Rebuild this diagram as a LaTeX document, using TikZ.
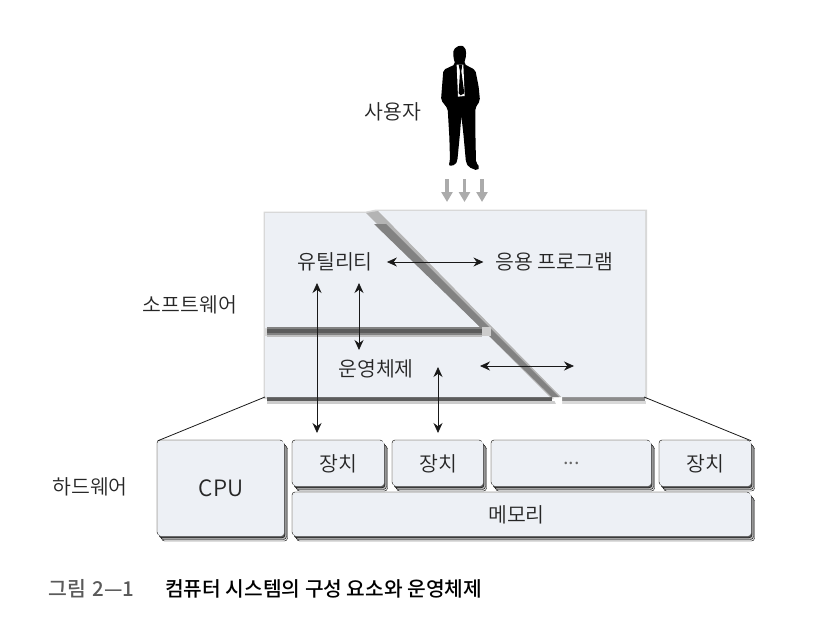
\documentclass[tikz,border=0pt]{standalone}
\usepackage{fontspec}
\setmainfont{Noto Sans CJK KR DemiLight}
\newfontfamily\capfont{Noto Sans CJK KR Medium}
\usetikzlibrary{arrows.meta}
\usetikzlibrary{shadows}
\definecolor{panelfill}{HTML}{EDF0F5}
\definecolor{paneledge}{HTML}{D8D8D8}
\definecolor{banddark}{HTML}{5C5C5C}
\definecolor{bandmid}{HTML}{828282}
\definecolor{bandlight}{HTML}{B4B4B4}
\definecolor{capgray}{HTML}{5A5A5A}
\tikzset{
  label/.style={inner sep=0pt, font=\fontsize{20.5}{20.5}\selectfont, text=black!85},
  hwbox/.style={fill=panelfill, rounded corners=3pt, inner sep=0pt,
    font=\fontsize{20.5}{20.5}\selectfont, text=black!85,
    copy shadow={shadow xshift=3.5pt, shadow yshift=-5pt, fill=black!8},
    copy shadow={shadow xshift=2.5pt, shadow yshift=-3.5pt, fill=black!28},
    copy shadow={shadow xshift=1pt, shadow yshift=-1.8pt, fill=black!65},
    copy shadow={shadow xshift=-1pt, shadow yshift=1pt, fill=black!8}},
  dblarrow/.style={{Stealth[length=10pt,width=9pt]}-{Stealth[length=10pt,width=9pt]}, line width=0.8pt, black!90},
  userarrow/.style={-{Triangle[length=10pt,width=11pt]}, line width=3.6pt, black!33},
  slant/.style={line width=0.8pt, black!90},
}
\newcommand{\HWBox}[5]{
  \node[hwbox, minimum width=#3, minimum height=#4] (#1) at (#2) {#5};
}
\newcommand{\UserArrow}[2]{
  \coordinate (#1a) at (#2,179);
  \coordinate (#1b) at (#2,202);
  \draw[userarrow] (#1a) -- (#1b);
}
\newcommand{\Link}[3]{
  \coordinate (#1a) at #2;
  \coordinate (#1b) at #3;
  \draw[dblarrow] (#1a) -- (#1b);
}
\begin{document}
\begin{tikzpicture}[x=1pt,y=-1pt]
\useasboundingbox (0,0) rectangle (819,623);

% user
\begin{scope}[shift={(400,30)},x=0.3333pt,y=-0.3333pt]
\fill[black, rounded corners=2pt] (180,45) -- (196,52) -- (199,75) -- (192,102) -- (226,120) -- (236,170)
  -- (240,212) -- (226,234) -- (226,300) -- (228,398) -- (240,412) -- (232,422) -- (206,411) -- (198,398)
  -- (190,310) -- (184,258) -- (180,310) -- (172,392) -- (166,405) -- (146,408) -- (150,390) -- (148,320)
  -- (143,236) -- (123,210) -- (130,120) -- (166,103) -- (160,82) -- (160,58) -- cycle;
\fill[white] (170,104) -- (190,104) -- (194,198) -- (174,200) -- cycle;
\fill[black] (176,104) -- (187,104) -- (184,124) -- (193,190) -- (182,196) -- (176,190) -- (180,124) -- cycle;
\end{scope}
\node[label] (user) at (393,112) {사용자};
\UserArrow{ua}{447}
\UserArrow{ub}{464.5}
\UserArrow{uc}{482}

% software
\fill[paneledge] (263.5,211.5) -- (366,211.5) -- (376,209.5) -- (647,209.5) -- (647,399) -- (263.5,399) -- cycle;
\fill[black!45] (562,397) rectangle (645,400.5);
\fill[black!15] (562,400.5) rectangle (646,403.5);
\fill[banddark] (267,397) rectangle (552,400.5);
\fill[black!20] (267,400.5) rectangle (556,403.5);
\fill[white] (553,397) -- (562,397) -- (562,404) -- (556,404) -- cycle;
\fill[panelfill] (265,213) -- (366,213) -- (481,328) -- (265,328) -- cycle;
\fill[panelfill] (265,336) -- (489,336) -- (550,397) -- (265,397) -- cycle;
\fill[panelfill] (378,211) -- (645,211) -- (645,397) -- (561,397) -- cycle;
\fill[bandlight] (366,213) -- (378,211) -- (561,397) -- (550,397) -- cycle;
\fill[bandmid] (374,224) -- (386,224) -- (559,397) -- (552,397) -- cycle;
\fill[bandmid] (267,327) rectangle (482,335);
\fill[banddark] (267,328.5) rectangle (482,333);
\fill[black!25] (267,335) rectangle (482,336.5);
\fill[black!20] (482,327) rectangle (491,336);

\node[label] (software) at (190,305) {소프트웨어};
\node[label] (util) at (335,262) {유틸리티};
\node[label] (app) at (554.5,262) {응용 프로그램};
\node[label] (os) at (376,369) {운영체제};

% hardware
\HWBox{cpu}{221,488.5}{126pt}{95pt}{\fontsize{22.5}{22.5}\selectfont CPU}
\HWBox{devA}{338.5,463.5}{91pt}{45pt}{장치}
\HWBox{devB}{438,463.5}{90pt}{45pt}{장치}
\HWBox{devC}{571.5,463.5}{159pt}{45pt}{\textcolor{black!60}{...}}
\HWBox{devD}{705.5,463.5}{91pt}{45pt}{장치}
\HWBox{mem}{522,514.5}{458pt}{43pt}{\hspace*{-11pt}메모리}
\node[label] (hardware) at (90,487) {하드웨어};

\coordinate (swL) at (265,397);
\coordinate (swR) at (644,397);
\draw[slant] (swL) -- (cpu.north west);
\draw[slant] (swR) -- (devD.north east);

% links
\draw[dblarrow, shorten <=14pt, shorten >=12pt] (util.east) -- (app.west);
\Link{la}{(317,283)}{(317,433)}
\Link{lb}{(359,283)}{(359,350)}
\Link{lc}{(438,367)}{(438,433)}
\Link{ld}{(480,366)}{(574,366)}

% caption
\node[anchor=west, inner sep=0pt, text=capgray, font=\capfont\fontsize{20.5}{20.5}\selectfont] (capnum) at (48,588.5) {그림\hspace{2pt} 2—1};
\node[anchor=west, inner sep=0pt, text=black, font=\capfont\fontsize{20.3}{20.3}\selectfont] (captext) at (165,588.5) {컴퓨터 시스템의 구성 요소와 운영체제};
\end{tikzpicture}
\end{document}
